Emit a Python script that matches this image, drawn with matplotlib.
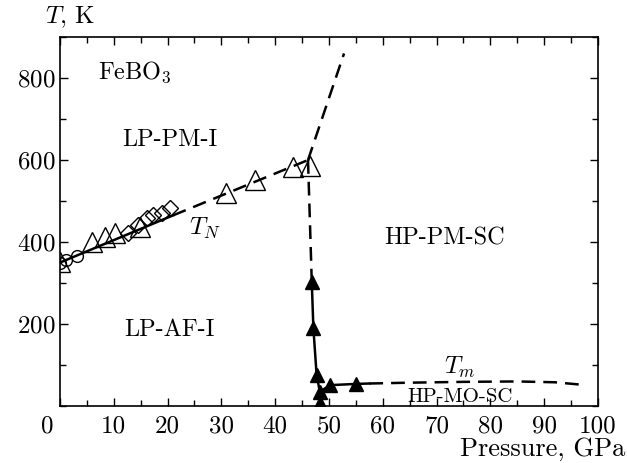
import numpy as np
import matplotlib
matplotlib.use('Agg')
import matplotlib.pyplot as plt
from matplotlib.ticker import MultipleLocator, FuncFormatter

plt.rcParams['font.family'] = 'cmr10'
plt.rcParams['mathtext.fontset'] = 'cm'
plt.rcParams['axes.formatter.use_mathtext'] = True
plt.rcParams['axes.unicode_minus'] = False

# open circles (low pressure)
circ_p = [0.0, 1.1, 3.2]
circ_t = [350, 356, 366]

# open diamonds
diam_p = [12.7, 14.5, 16.1, 17.3, 18.9, 20.4]
diam_t = [421, 441, 458, 466, 470, 482]

# open triangles
otri_p = [0.0, 5.9, 8.4, 10.2, 14.9, 30.9, 36.2, 43.3, 46.5]
otri_t = [351, 401, 413, 422, 437, 520, 551, 583, 585]

# solid triangles (HP side)
stri_p = [46.8, 47.1, 47.7, 48.3, 48.3, 50.2, 55.1]
stri_t = [303, 190, 76, 35, 7, 51, 54]

# T_N boundary
tn_solid_p = [0.0, 21.0]
tn_solid_t = [350, 465]
tn_dash_p = [21.0, 46.1]
tn_dash_t = [465, 600]

# steep boundary above the transition
steep_p = [46.1, 52.8]
steep_t = [600, 860]

# near-vertical dashed boundary
vert_p = [46.1, 46.8]
vert_t = [600, 303]

# solid line through the HP points
hp_p = [46.8, 47.1, 47.7, 48.3, 50.2, 55.1, 57.5]
hp_t = [303, 190, 76, 35, 51, 54, 55]

# T_m dashed curve
tm_p = [57.5, 65, 75, 85, 92, 97]
tm_t = [55, 57, 59, 60, 58, 52]

fig = plt.figure(figsize=(6.27, 4.63), dpi=100)
ax = fig.add_axes([0.0957, 0.123, 0.858, 0.797])

dash = dict(color='black', lw=1.8, linestyle=(0, (5.5, 3.2)))
ax.plot(tn_solid_p, tn_solid_t, color='black', lw=1.8)
ax.plot(tn_dash_p, tn_dash_t, **dash)
ax.plot(steep_p, steep_t, **dash)
ax.plot(vert_p, vert_t, **dash)
ax.plot(tm_p, tm_t, **dash)
ax.plot(hp_p, hp_t, color='black', lw=1.8)

ax.plot(circ_p, circ_t, 'o', ms=8.5, mfc='none', mec='black', mew=1.0)
ax.plot(diam_p, diam_t, 'D', ms=8.5, mfc='none', mec='black', mew=1.0)
ax.plot(otri_p, otri_t, '^', ms=14, mfc='none', mec='black', mew=1.0)
ax.plot(stri_p, stri_t, '^', ms=9.5, mfc='black', mec='black')

ax.set_xlim(0, 100)
ax.set_ylim(0, 900)
ax.xaxis.set_major_locator(MultipleLocator(10))
ax.xaxis.set_minor_locator(MultipleLocator(5))
ax.xaxis.set_major_formatter(FuncFormatter(lambda v, pos: '' if v == 0 else '%d' % v))
ax.yaxis.set_minor_locator(MultipleLocator(100))
ax.set_yticks([200, 400, 600, 800])
ax.tick_params(which='both', direction='in', top=True, right=True, labelsize=18, width=1.0)
ax.tick_params(which='major', length=6)
ax.tick_params(which='minor', length=4)
ax.tick_params(axis='x', which='major', pad=6.5)
for s in ax.spines.values():
    s.set_linewidth(1.2)

# the "0" sits left of the spine in the original
ax.text(-2.4, -0.026, '0', fontsize=18, ha='center', va='top',
        transform=ax.get_xaxis_transform())

ax.text(7, 815, r'FeBO$_3$', fontsize=17.5, va='center')
ax.text(20.4, 650, 'LP-PM-I', fontsize=17.5, ha='center', va='center')
ax.text(27, 434, r'$T_N$', fontsize=18, ha='center', va='center')
ax.text(71.5, 410, 'HP-PM-SC', fontsize=17.5, ha='center', va='center')
ax.text(20.4, 185, 'LP-AF-I', fontsize=17.5, ha='center', va='center')
ax.text(74.3, 95, r'$T_m$', fontsize=18, ha='center', va='center')
ax.text(74.3, 22, 'HP-MO-SC', fontsize=15, ha='center', va='center', zorder=0)

fig.text(0.072, 0.962, r'$T$, K', fontsize=18, va='center')
fig.text(0.997, 0.004, 'Pressure, GPa', fontsize=19, ha='right', va='bottom')

fig.savefig('out.png', dpi=100)
